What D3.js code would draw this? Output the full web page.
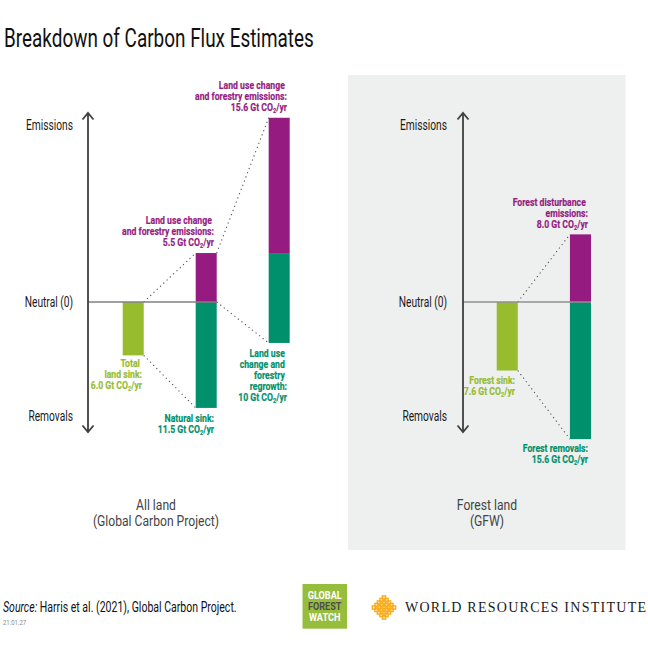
<!DOCTYPE html>
<html>
<head>
<meta charset="utf-8">
<script src="https://cdn.jsdelivr.net/npm/d3@7"></script>
<style>
  html, body { margin: 0; padding: 0; background: #fff; }
  svg { display: block; }
  text { font-family: Roboto, "Liberation Sans", sans-serif; }
</style>
</head>
<body>
<svg id="chart" width="648" height="648"></svg>
<script>
// bar extents in Gt CO2/yr (drawn lengths differ a bit from the printed labels)
var leftSink = [0, -6.0];
var leftEmis = [0, 5.5];
var leftNat = [0, -11.9];
var leftLucEmis = [5.5, 20.7];
var leftLucRegrowth = [5.5, -4.6];
var rightSink = [0, -7.7];
var rightEmis = [0, 7.6];
var rightRem = [0, -15.4];

var axisLabels = ["Emissions", "Neutral (0)", "Removals"];
var axisLabelVals = [19.9, 0, -12.8];

var colPurple = "#951b81", colGreen = "#00906b", colLime = "#97bd2f";

var svg = d3.select("#chart");

// value scale shared by both panels
var y = d3.scaleLinear().domain([0, 10]).range([302, 213]);

var xLeft = d3.scaleBand().domain(["sink", "split", "luc"]).range([122.7, 289.7]).paddingInner(0.712);
var xRight = d3.scaleBand().domain(["sink", "split"]).range([496.7, 591]).paddingInner(0.712);

// no condensed face is installed, so squeeze the text horizontally instead
function squeezed(x, yPos, k) {
  return svg.append("g").attr("transform", "translate(" + x + "," + yPos + ") scale(" + k + ",1)").append("text");
}

// grey panel behind forest land
svg.append("rect").attr("x", 348).attr("y", 75).attr("width", 277.5).attr("height", 475).attr("fill", "#eef0ef");

function bar(x, col, ext, color) {
  svg.append("rect")
    .attr("x", x(col))
    .attr("width", x.bandwidth())
    .attr("y", y(d3.max(ext)))
    .attr("height", y(d3.min(ext)) - y(d3.max(ext)))
    .attr("fill", color);
}

function dotted(x1, v1, x2, v2) {
  svg.append("line")
    .attr("x1", x1).attr("y1", y(v1)).attr("x2", x2).attr("y2", y(v2))
    .attr("stroke", "#555").attr("stroke-width", 1.1).attr("stroke-dasharray", "1.2 3.3");
}

function axisArrow(x) {
  var top = 113, bottom = 432;
  svg.append("path")
    .attr("d", "M" + x + "," + top + "V" + bottom +
      "M" + (x - 5.5) + "," + (top + 6.5) + "L" + x + "," + top + "L" + (x + 5.5) + "," + (top + 6.5) +
      "M" + (x - 5.5) + "," + (bottom - 6.5) + "L" + x + "," + bottom + "L" + (x + 5.5) + "," + (bottom - 6.5))
    .attr("fill", "none").attr("stroke", "#404040").attr("stroke-width", 1.8);
}

function label(lines, xRightEdge, yTop, color) {
  // right aligned bold note, one text per line
  lines.forEach(function(line, i) {
    var t = squeezed(xRightEdge, yTop + i * 11, 0.79)
      .attr("text-anchor", "end")
      .attr("font-size", 11).attr("font-weight", 700).attr("fill", color)
      .attr("stroke", color).attr("stroke-width", 0.2);
    if (line.indexOf("CO2") >= 0) {
      var parts = line.split("CO2");
      t.append("tspan").text(parts[0] + "CO");
      t.append("tspan").attr("font-size", 7).attr("dy", 2).text("2");
      t.append("tspan").attr("dy", -2).text(parts[1]);
    } else {
      t.text(line);
    }
  });
}

function axisText(x, vals) {
  axisLabels.forEach(function(txt, i) {
    squeezed(x, y(vals[i]) + 4.8, 0.73)
      .attr("text-anchor", "end").attr("font-size", 14).attr("fill", "#1a1a1a").text(txt);
  });
}

// ---- all land
bar(xLeft, "sink", leftSink, colLime);
bar(xLeft, "split", leftEmis, colPurple);
bar(xLeft, "split", leftNat, colGreen);
bar(xLeft, "luc", leftLucEmis, colPurple);
bar(xLeft, "luc", leftLucRegrowth, colGreen);

dotted(xLeft("sink") + xLeft.bandwidth(), 0, xLeft("split"), leftEmis[1]);
dotted(xLeft("sink") + xLeft.bandwidth(), leftSink[1], xLeft("split"), leftNat[1]);
dotted(xLeft("split") + xLeft.bandwidth(), leftEmis[1], xLeft("luc"), leftLucEmis[1]);
dotted(xLeft("split") + xLeft.bandwidth(), 0, xLeft("luc"), leftLucRegrowth[1]);

svg.append("line").attr("x1", 88).attr("x2", xLeft("split") + xLeft.bandwidth())
  .attr("y1", y(0)).attr("y2", y(0)).attr("stroke", "#808080").attr("stroke-width", 1.3);
axisArrow(88);
axisText(73, axisLabelVals);

// ---- forest land
bar(xRight, "sink", rightSink, colLime);
bar(xRight, "split", rightEmis, colPurple);
bar(xRight, "split", rightRem, colGreen);

dotted(xRight("sink") + xRight.bandwidth(), 0, xRight("split"), rightEmis[1]);
dotted(xRight("sink") + xRight.bandwidth(), rightSink[1], xRight("split"), rightRem[1]);

svg.append("line").attr("x1", 463).attr("x2", xRight("split") + xRight.bandwidth())
  .attr("y1", y(0)).attr("y2", y(0)).attr("stroke", "#909090").attr("stroke-width", 1.6);
axisArrow(463);
axisText(447, axisLabelVals);

// ---- notes (trailing nbsp nudges the lines that sit short of the right edge)
label(["Land use change\u00a0", "and forestry emissions:", "15.6 Gt CO2/yr"], 287, 89, colPurple);
label(["Land use change\u00a0", "and forestry emissions:", "5.5 Gt CO2/yr"], 214, 224, colPurple);
label(["Total\u00a0", "land sink:", "6.0 Gt CO2/yr"], 142, 366.5, colLime);
label(["Natural sink:", "11.5 Gt CO2/yr"], 214, 422, colGreen);
label(["Land use\u00a0", "change and\u00a0", "forestry\u00a0", "regrowth:", "10 Gt CO2/yr"], 287, 356.7, colGreen);
label(["Forest disturbance\u00a0", "emissions:", "8.0 Gt CO2/yr"], 588, 206, colPurple);
label(["Forest sink:", "7.6 Gt CO2/yr"], 515, 383.5, colLime);
label(["Forest removals:", "15.6 Gt CO2/yr"], 588, 451.7, colGreen);

// ---- titles
squeezed(4, 46.5, 0.757).attr("font-size", 25).attr("fill", "#111").text("Breakdown of Carbon Flux Estimates");

function panelTitle(cx, a, b) {
  squeezed(cx, 510, 0.81).attr("text-anchor", "middle").attr("font-size", 15).attr("fill", "#444").text(a);
  squeezed(cx, 526, 0.81).attr("text-anchor", "middle").attr("font-size", 15).attr("fill", "#444").text(b);
}
panelTitle(156, "All land", "(Global Carbon Project)");
panelTitle(487, "Forest land", "(GFW)");

// ---- footer
var src = squeezed(3, 611.7, 0.727).attr("font-size", 14.5).attr("fill", "#111");
src.append("tspan").attr("font-style", "italic").text("Source:");
src.append("tspan").text(" Harris et al. (2021), Global Carbon Project.");
squeezed(3, 625, 0.85).attr("font-size", 7).attr("fill", "#888").text("21.01.27");

// GFW badge
svg.append("rect").attr("x", 302.5).attr("y", 584).attr("width", 44.5).attr("height", 44.7).attr("fill", "#97bd3d");
[["GLOBAL", "#fff", 599], ["FOREST", "#4d4d4d", 610.2], ["WATCH", "#fff", 621.3]].forEach(function(d) {
  squeezed(324.7, d[2], 0.87).attr("text-anchor", "middle")
    .attr("font-size", 10.5).attr("font-weight", 700).attr("fill", d[1]).text(d[0]);
});

// WRI mark: lattice of small squares
var wri = svg.append("g").attr("transform", "translate(384,607.5)");
d3.range(-4, 5).forEach(function(i) {
  d3.range(-4, 5).forEach(function(j) {
    if (Math.abs(i) + Math.abs(j) > 5 || (i + j) % 2 !== 0) return;
    wri.append("rect").attr("x", i * 2.5 - 1.6).attr("y", j * 2.5 - 1.6).attr("width", 3.2).attr("height", 3.2)
      .attr("fill", "none").attr("stroke", "#f9ae1f").attr("stroke-width", 1.5);
  });
});
svg.append("text").attr("x", 405).attr("y", 612.3).attr("font-size", 14)
  .style("font-family", '"Liberation Serif", serif').attr("textLength", 241).attr("lengthAdjust", "spacing").attr("fill", "#1a1a1a")
  .text("WORLD RESOURCES INSTITUTE");
</script>
</body>
</html>
